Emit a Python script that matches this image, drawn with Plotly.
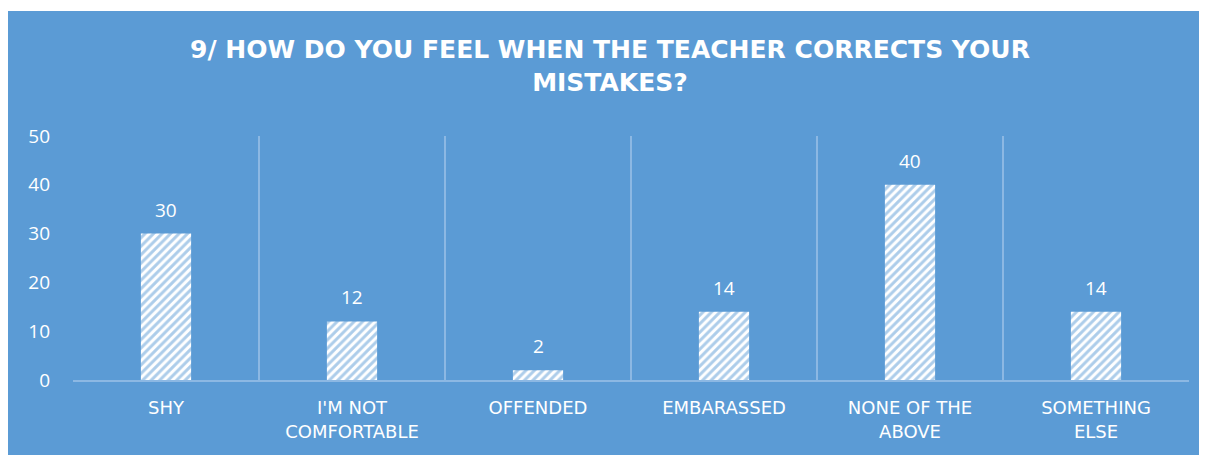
import plotly.graph_objects as go

categories = ["SHY", "I'M NOT COMFORTABLE", "OFFENDED", "EMBARASSED", "NONE OF THE ABOVE", "SOMETHING ELSE"]
tick_labels = ["SHY", "I'M NOT<br>COMFORTABLE", "OFFENDED", "EMBARASSED", "NONE OF THE<br>ABOVE", "SOMETHING<br>ELSE"]
values = [30, 12, 2, 14, 40, 14]
y_ticks = [0, 10, 20, 30, 40, 50]
title_text = "9/ HOW DO YOU FEEL WHEN THE TEACHER CORRECTS YOUR<br>MISTAKES?"

BLUE = "#5B9BD5"
GRID = "#8CB8E3"
# page body adds an 8px offset; figure is sized to fit the window
W, H = 1199, 451
ML, MR, MT, MB = 65, 18, 128, 79
pw, ph = W - ML - MR, H - MT - MB

fig = go.Figure()
fig.add_trace(go.Bar(
    x=categories, y=values, width=0.27,
    marker=dict(color="white", line=dict(width=0),
                pattern=dict(shape="/", fgcolor=BLUE, bgcolor="white", size=6, solidity=0.5)),
    hoverinfo="x+y",
))

for c, v in zip(categories, values):
    fig.add_annotation(x=c, y=v, text=str(v), showarrow=False, yanchor="middle", yshift=24,
                       font=dict(family="Open Sans", size=19, color="white"))

# blue chart-area background
fig.add_shape(type="rect", xref="paper", yref="paper", layer="below",
              x0=(0 - ML) / pw, x1=(W - ML) / pw,
              y0=(H - MB - 447) / ph, y1=(H - MB - 3) / ph,
              fillcolor=BLUE, line=dict(width=0))

fig.update_layout(
    width=W, height=H,
    margin=dict(l=ML, r=MR, t=MT, b=MB),
    paper_bgcolor="white", plot_bgcolor="rgba(0,0,0,0)",
    showlegend=False,
    title=dict(text=title_text, xref="container", yref="container", x=602 / W, xanchor="center",
               y=1 - 50 / H, yanchor="top",
               font=dict(family="DejaVu Sans", size=25, color="white", weight="bold")),
    xaxis=dict(type="category", categoryorder="array", categoryarray=categories,
               tickvals=categories, ticktext=tick_labels, tickson="boundaries",
               showgrid=True, gridcolor=GRID, gridwidth=1.5, showline=True, linecolor=GRID, linewidth=1.5,
               ticks="", ticklabelstandoff=11, range=[-0.5, 5.5],
               tickfont=dict(family="DejaVu Sans", size=18, color="white")),
    yaxis=dict(range=[0, 50], tickvals=y_ticks, showgrid=False, zeroline=False, showline=False,
               ticks="", ticklabelstandoff=22,
               tickfont=dict(family="Open Sans", size=19, color="white")),
)

fig.write_html("out.html")
